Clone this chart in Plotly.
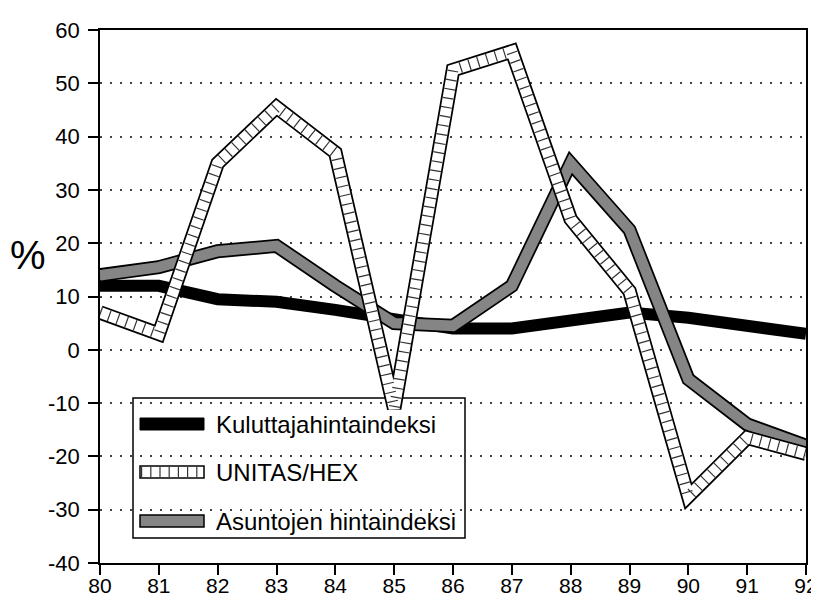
import plotly.graph_objects as go

years = [80, 81, 82, 83, 84, 85, 86, 87, 88, 89, 90, 91, 92]
kuluttaja = [12, 12, 9.5, 9, 7.5, 6, 4, 4, 5.5, 7, 6, 4.5, 3]
unitas = [7, 3, 35, 45.5, 37, -11, 52.5, 56, 24.5, 11, -27.5, -16.5, -19.5]
asunnot = [14, 15.5, 18.5, 19.5, 12, 5, 4.5, 12, 35, 22.5, -5.5, -14, -18]
names = ["Kuluttajahintaindeksi", "UNITAS/HEX", "Asuntojen hintaindeksi"]
yticks = [-40, -30, -20, -10, 0, 10, 20, 30, 40, 50, 60]
yticktext = [str(v) for v in yticks]

FONT = "Liberation Sans, Arial, sans-serif"
fig = go.Figure()

# Kuluttajahintaindeksi: solid black thick band
fig.add_trace(go.Scatter(x=years, y=kuluttaja, mode="lines", name=names[0],
                         line=dict(color="black", width=12), showlegend=False))
# Asuntojen hintaindeksi: gray textured band with black outline
fig.add_trace(go.Scatter(x=years, y=asunnot, mode="lines", name=names[2],
                         line=dict(color="black", width=14), showlegend=False))
fig.add_trace(go.Scatter(x=years, y=asunnot, mode="lines", name=names[2],
                         line=dict(color="#858585", width=10.5), showlegend=False))
# UNITAS/HEX: hollow hatched band
fig.add_trace(go.Scatter(x=years, y=unitas, mode="lines", name=names[1],
                         line=dict(color="black", width=14.5), showlegend=False))
fig.add_trace(go.Scatter(x=years, y=unitas, mode="lines", name=names[1],
                         line=dict(color="white", width=11), showlegend=False))
fig.add_trace(go.Scatter(x=years, y=unitas, mode="lines", name=names[1],
                         line=dict(color="#333333", width=11, dash="1.2px,8px"),
                         showlegend=False))

# Plot area in viewport px: x 100..806, y 30..563
def px(x):
    return (x - 100) / 706


def py(y):
    return (563 - y) / 533


shapes = []
annotations = []
# transparent legend frame, drawn beneath the lines
shapes.append(dict(type="rect", xref="paper", yref="paper",
                   x0=px(133), x1=px(465), y0=py(538), y1=py(398),
                   line=dict(color="black", width=1.5), fillcolor="rgba(0,0,0,0)",
                   layer="below"))
rows = [424, 472, 521]
for i, yc in enumerate(rows):
    y0 = py(yc + 6)
    y1 = py(yc - 6)
    if i == 0:
        shapes.append(dict(type="rect", xref="paper", yref="paper", x0=px(140), x1=px(204),
                           y0=y0, y1=y1, fillcolor="black", line=dict(color="black", width=1),
                           layer="above"))
    elif i == 1:
        shapes.append(dict(type="rect", xref="paper", yref="paper", x0=px(140), x1=px(204),
                           y0=y0, y1=y1, fillcolor="white", line=dict(color="black", width=1.5),
                           layer="above"))
        shapes.append(dict(type="line", xref="paper", yref="paper", x0=px(141), x1=px(203),
                           y0=(y0 + y1) / 2, y1=(y0 + y1) / 2,
                           line=dict(color="#333333", width=10, dash="1.2px,8px"),
                           layer="above"))
    else:
        shapes.append(dict(type="rect", xref="paper", yref="paper", x0=px(140), x1=px(204),
                           y0=y0, y1=y1, fillcolor="#858585", line=dict(color="black", width=1.5),
                           layer="above"))
    annotations.append(dict(xref="paper", yref="paper", x=px(214),
                            y=py(yc), text=names[i], showarrow=False,
                            xanchor="left", yanchor="middle",
                            font=dict(family=FONT, size=24, color="black")))

annotations.append(dict(xref="paper", yref="paper", x=px(28),
                        y=py(255), text="%", showarrow=False,
                        xanchor="center", yanchor="middle",
                        font=dict(family=FONT, size=40, color="black")))

# page body adds an 8px offset; figure sized to fit inside the window
fig.update_layout(
    width=811, height=591,
    margin=dict(l=92, r=13, t=22, b=36),
    paper_bgcolor="white", plot_bgcolor="white",
    showlegend=False,
    font=dict(family=FONT, size=22, color="black"),
    shapes=shapes, annotations=annotations,
)
fig.update_xaxes(range=[80, 92], tickvals=years, ticktext=[str(y) for y in years],
                 showgrid=False, zeroline=False, showline=True, linecolor="black",
                 linewidth=1.5, mirror=True, ticks="outside", ticklen=10, automargin=False,
                 ticklabelstandoff=-7,
                 tickcolor="black", tickwidth=1.5, tickfont=dict(size=21, family=FONT))
fig.update_yaxes(range=[-40, 60], tickvals=yticks, ticktext=yticktext, showgrid=True,
                 gridcolor="#444444", automargin=False, ticklabelstandoff=4,
                 griddash="2px,8px", gridwidth=1.5, zeroline=False, showline=True,
                 linecolor="black", linewidth=1.5, mirror=True, ticks="outside",
                 ticklen=10, tickcolor="black", tickwidth=1.5,
                 tickfont=dict(size=22, family=FONT))

fig.write_html("out.html")
